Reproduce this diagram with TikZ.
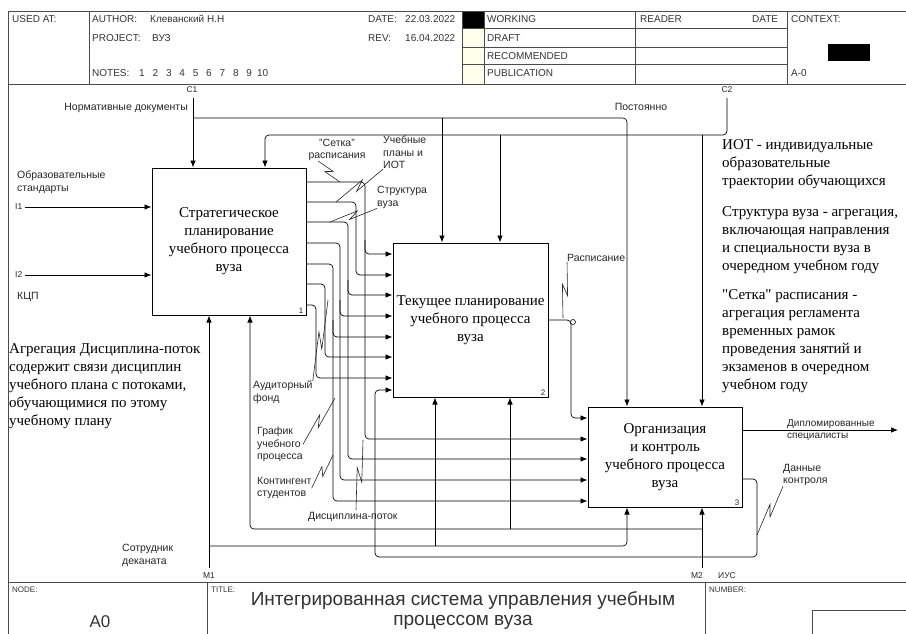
\documentclass[tikz,border=0pt]{standalone}
\usepackage{fontspec}
\setmainfont{Liberation Sans}
\newfontfamily\idefserif{Liberation Serif}
\usetikzlibrary{arrows.meta,calc}

\tikzset{
  frame/.style={line width=0.9pt, black!70},
  actbox/.style={draw, line width=1pt, inner sep=0pt, align=center,
    font=\idefserif\fontsize{15}{18}\selectfont},
  arr/.style={-{Latex[length=7pt,width=5.5pt]}, line width=0.7pt, rounded corners=4pt},
  lbl/.style={inner sep=0pt, align=left, font=\fontsize{10.5}{12.5}\selectfont, black!85},
  hdr/.style={inner sep=0pt, anchor=west, font=\fontsize{10}{12}\selectfont, black!80},
  note/.style={inner sep=0pt, anchor=north west, align=left,
    font=\idefserif\fontsize{15}{18}\selectfont},
  squig/.style={line width=0.6pt, black!85},
}
% IDEF0 leader with a small zigzag
\newcommand{\squig}[2]{\draw[squig] (#1) -- ($(#1)!0.6!(#2)!3pt!90:(#2)$)
  -- ($(#1)!0.4!(#2)!3pt!-90:(#2)$) -- (#2);}

\begin{document}
\begin{tikzpicture}[x=1pt,y=-1pt]
\useasboundingbox (0,0) rectangle (906,634);

% Form header
\fill[yellow!7] (462,28) rectangle (484,84);
\fill (462,11) rectangle (484,28);
\fill (828,44) rectangle (870,61);
\draw[frame] (8,634) -- (8,11) -- (906,11);
\draw[frame] (8,84) -- (906,84);
\foreach \xh in {89,462,484,635,787} \draw[frame] (\xh,11) -- (\xh,84);
\foreach \yh in {28,47,64} \draw[frame] (462,\yh) -- (787,\yh);

\node[hdr] (usedat) at (12,19) {USED AT:};
\node[hdr] (author) at (92,19) {AUTHOR:};
\node[hdr] (authorv) at (150,19) {Клеванский Н.Н};
\node[hdr] (project) at (92,38) {PROJECT:};
\node[hdr] (projectv) at (152,38) {ВУЗ};
\node[hdr] (notes) at (92,73) {NOTES:};
\foreach \n in {1,...,10} \node[hdr, anchor=center] (note\n) at (142+13.4*\n-13.4,73) {\n};
\node[hdr] (date) at (368,19) {DATE:};
\node[hdr] (datev) at (405,19) {22.03.2022};
\node[hdr] (rev) at (368,38) {REV:};
\node[hdr] (revv) at (405,38) {16.04.2022};
\node[hdr] (working) at (487,19) {WORKING};
\node[hdr] (draft) at (487,38) {DRAFT};
\node[hdr] (recomm) at (487,56) {RECOMMENDED};
\node[hdr] (public) at (487,73) {PUBLICATION};
\node[hdr] (reader) at (640,19) {READER};
\node[hdr] (rdate) at (752,19) {DATE};
\node[hdr] (context) at (791,19) {CONTEXT:};
\node[hdr] (ctxnode) at (791,73) {A-0};

% Form footer
\draw[frame] (8,582) -- (906,582);
\draw[frame] (207,582) -- (207,634);
\draw[frame] (705,582) -- (705,634);
\draw[frame] (812,634) -- (812,610) -- (906,610);
\node[hdr, font=\fontsize{8}{9}\selectfont] (nodelbl) at (12,590) {NODE:};
\node[hdr, anchor=center, font=\fontsize{17}{20}\selectfont] (nodev) at (100,622) {A0};
\node[hdr, font=\fontsize{8}{9}\selectfont] (titlelbl) at (211,590) {TITLE:};
\node[hdr, anchor=center, align=center, font=\fontsize{19}{20}\selectfont] (title) at (463,611)
  {Интегрированная система управления учебным\\процессом вуза};
\node[hdr, font=\fontsize{8}{9}\selectfont] (numlbl) at (709,590) {NUMBER:};

% Activities
\node[actbox, minimum width=154pt, minimum height=147pt] (b1) at (229,241.5)
  {Стратегическое\\планирование\\учебного процесса\\вуза};
\node[actbox, minimum width=155pt, minimum height=154pt] (b2) at (470.5,320)
  {Текущее планирование\\учебного процесса\\вуза};
\node[actbox, minimum width=154pt, minimum height=100pt] (b3) at (665,457)
  {Организация\\и контроль\\учебного процесса\\вуза};
\node[lbl, anchor=south east, font=\fontsize{8}{9}\selectfont] (n1) at ($(b1.south east)+(-3,-2)$) {1};
\node[lbl, anchor=south east, font=\fontsize{8}{9}\selectfont] (n2) at ($(b2.south east)+(-3,-2)$) {2};
\node[lbl, anchor=south east, font=\fontsize{8}{9}\selectfont] (n3) at ($(b3.south east)+(-3,-2)$) {3};

% Controls
\coordinate (c1) at (193,98);
\coordinate (c2) at (727,98);
\node[lbl, font=\fontsize{8.5}{10}\selectfont] (c1lbl) at (192,90) {C1};
\node[lbl, font=\fontsize{8.5}{10}\selectfont] (c2lbl) at (727,90) {C2};
\draw[arr] (c1) -- (c1 |- b1.north);
\draw[arr] (193,118) -| (627,0 |- b3.north);
\draw[arr] (442,118) -- (442,0 |- b2.north);
\draw[arr] (c2) |- (265,135) -- (265,0 |- b1.north);
\draw[arr] (702,135) -- (702,0 |- b3.north);
\draw[arr] (500,135) -- (500,0 |- b2.north);
\node[lbl, anchor=east] (normdoc) at (188,108) {Нормативные документы};
\node[lbl] (postoyanno) at (641,107) {Постоянно};

% Inputs
\coordinate (i1) at (25,207);
\coordinate (i2) at (25,275);
\node[lbl, anchor=west, font=\fontsize{8.5}{10}\selectfont] (i1lbl) at (15,207) {I1};
\node[lbl, anchor=west, font=\fontsize{8.5}{10}\selectfont] (i2lbl) at (15,275) {I2};
\draw[arr] (i1) -- (i1 -| b1.west);
\draw[arr] (i2) -- (i2 -| b1.west);
\node[lbl, anchor=north west] (obrst) at (17,171) {Образовательные\\стандарты};
\node[lbl, anchor=west] (kcp) at (17,297) {КЦП};

% Outputs of 1 into 2 and 3
\foreach \yo/\xv/\yi in {182/365/254, 202/356/275, 222/348/295, 243/340/316,
                         264/333/337, 284/325/357, 305/316/378}
  \draw[arr] (b1.east |- 0,\yo) -| (\xv,\yi) -- (b2.west |- 0,\yi);
\foreach \xv/\ys/\yt in {365/240/439, 348/280/459, 340/300/480, 333/320/501}
  \draw[arr] (\xv,\ys) -- (\xv,\yt) -- (b3.west |- 0,\yt);

\node[lbl, align=center] (setka) at (337,150) {"Сетка"\\расписания};
\node[lbl, anchor=north west] (uplan) at (383,136) {Учебные\\планы и\\ИОТ};
\node[lbl, anchor=north west] (struct) at (377,186) {Структура\\вуза};
\node[lbl, anchor=north west] (afond) at (253,381) {Аудиторный\\фонд};
\node[lbl, anchor=north west] (grafik) at (257,427) {График\\учебного\\процесса};
\node[lbl, anchor=north west] (kont) at (257,477) {Контингент\\студентов};
\node[lbl, anchor=west] (disc) at (308,517) {Дисциплина-поток};
\squig{318,161}{340,182}
\squig{uplan.south west}{336,202}
\squig{struct.south west}{330,222}
\squig{afond.north east}{328,300}
\squig{grafik.east}{335,398}
\squig{kont.east}{333,455}
\squig{356,510}{363,440}

% Output of 2
\draw[arr] (b2.east |- 0,320) -| (571,418) -- (b3.west |- 0,418);
\node[draw, circle, inner sep=0pt, minimum size=5pt, line width=0.6pt] (tunnel) at (573,322) {};
\node[lbl, anchor=west] (rasp) at (567,258) {Расписание};
\squig{rasp.south west}{563,318}

% Outputs of 3
\coordinate (o1) at (898,430);
\draw[arr] (b3.east |- 0,430) -- (o1);
\node[lbl, anchor=north west, font=\fontsize{10}{12}\selectfont] (diplom) at (787,419) {Дипломированные\\специалисты};
\draw[arr] (b3.east |- 0,479) -| (757,557) -| (375,390) -- (b2.west |- 0,390);
\node[lbl, anchor=north west] (dkontr) at (783,464) {Данные\\контроля};
\squig{dkontr.south west}{757,535}

% Mechanisms
\coordinate (m1) at (209,568);
\coordinate (m2) at (702,568);
\node[lbl, font=\fontsize{8.5}{10}\selectfont] (m1lbl) at (209,576) {M1};
\node[lbl, font=\fontsize{8.5}{10}\selectfont] (m2lbl) at (697,576) {M2};
\node[lbl, font=\fontsize{8.5}{10}\selectfont] (iuslbl) at (727,576) {ИУС};
\draw[arr] (m1) -- (m1 |- b1.south);
\draw[arr] (209,546) -| (627,0 |- b3.south);
\draw[arr] (435,546) -- (435,0 |- b2.south);
\draw[arr] (m2) -- (m2 |- b3.south);
\draw[arr] (702,529) -| (250,0 |- b1.south);
\draw[arr] (510,529) -- (510,0 |- b2.south);
\node[lbl, anchor=north west] (sotr) at (122,544) {Сотрудник\\деканата};

% Notes
\node[note] (noteleft) at (9,343) {Агрегация Дисциплина-поток\\содержит связи дисциплин\\учебного плана с потоками,\\обучающимися по этому\\учебному плану};
\node[note] (noteiot) at (722,139) {ИОТ - индивидуальные\\образовательные\\траектории обучающихся};
\node[note] (notestr) at (722,206) {Структура вуза - агрегация,\\включающая направления\\и специальности вуза в\\очередном учебном году};
\node[note] (notesetka) at (722,289) {"Сетка" расписания -\\агрегация регламента\\временных рамок\\проведения занятий и\\экзаменов в очередном\\учебном году};
\end{tikzpicture}
\end{document}
